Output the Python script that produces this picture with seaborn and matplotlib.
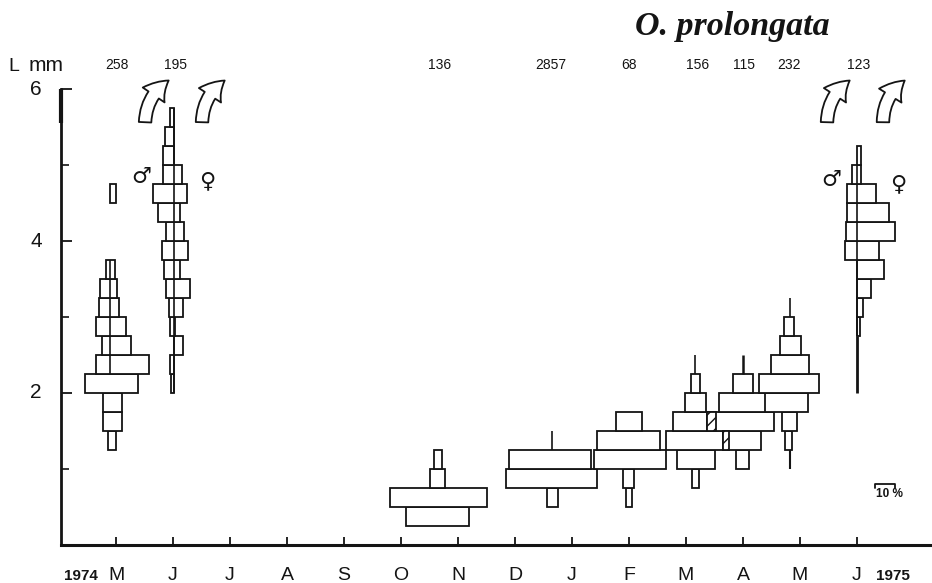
import numpy as np
import matplotlib
matplotlib.use('Agg')
import matplotlib.pyplot as plt
from matplotlib.patches import FancyArrowPatch
from matplotlib import font_manager
import seaborn as sns

# month axis
months = ['M', 'J', 'J', 'A', 'S', 'O', 'N', 'D', 'J', 'F', 'M', 'A', 'M', 'J']

# sample size labels: position in months, n
count_pos = [0.02, 1.05, 5.68, 7.62, 9.0, 10.2, 11.02, 11.8, 13.02]
count_txt = ['258', '195', '136', '2857', '68', '156', '115', '232', '123']

# each sample: centre (months), lower edge of length class (mm), % to left, % to right
may74_c = -0.105
may74_l = [1.25, 1.5, 1.75, 2.0, 2.25, 2.5, 2.75, 3.0, 3.25, 3.5, 4.5]
may74_a = [1, 3.5, 3.5, 12.5, 7, 4, 7, 5.5, 5, 2, 0]
may74_b = [3, 6, 6, 14, 19.5, 10.5, 8, 4.5, 3.5, 2.5, 3]

jun74_c = 1.02
jun74_l = [2.0, 2.25, 2.5, 2.75, 3.0, 3.25, 3.5, 3.75, 4.0, 4.25, 4.5, 4.75, 5.0, 5.25, 5.5]
jun74_a = [1.5, 2, 0, 2, 2.5, 4, 5, 6, 4, 8, 10.5, 5.5, 5.5, 4.5, 2]
jun74_b = [0, 0, 4.5, 0.5, 4.5, 8, 3, 7, 5, 3, 6.5, 4, 0, 0, 0]

oct_c = 5.65
oct_l = [0.25, 0.5, 0.75, 1.0]
oct_a = [16, 24, 4, 2]
oct_b = [15.5, 24.5, 3.5, 2]

dec_c = 7.65
dec_l = [0.5, 0.75, 1.0]
dec_a = [2.75, 23, 21.5]
dec_b = [3, 22.5, 19.5]

feb_c = 9.0
feb_l = [0.5, 0.75, 1.0, 1.25, 1.5]
feb_a = [1.5, 3, 17.5, 16, 6.5]
feb_b = [1.5, 2.5, 18.5, 15.5, 6.5]

mar_c = 10.16
mar_l = [0.75, 1.0, 1.25, 1.5, 1.75, 2.0]
mar_a = [1.5, 9, 14.5, 11, 5, 2]
mar_b = [2, 10, 17, 10.5, 5.5, 2.5]

apr_c = 11.0
apr_l = [1.0, 1.25, 1.5, 1.75, 2.0]
apr_a = [3.5, 10, 18, 12, 5]
apr_b = [3, 9, 15.5, 14.5, 5]

may75_c = 11.82
may75_l = [1.25, 1.5, 1.75, 2.0, 2.25, 2.5, 2.75]
may75_a = [2.5, 4, 12.5, 15.5, 9.5, 5, 3]
may75_b = [1, 3.5, 9, 14.5, 9.5, 5.5, 2]

jun75_c = 13.0
jun75_l = [2.75, 3.0, 3.25, 3.5, 3.75, 4.0, 4.25, 4.5, 4.75, 5.0]
jun75_a = [0, 0, 0, 0, 6, 5.5, 5, 5, 2.5, 0]
jun75_b = [1.5, 3.25, 7, 13.5, 11, 19, 16, 9.5, 2, 2]

samples = [
    (may74_c, may74_l, may74_a, may74_b),
    (jun74_c, jun74_l, jun74_a, jun74_b),
    (oct_c, oct_l, oct_a, oct_b),
    (dec_c, dec_l, dec_a, dec_b),
    (feb_c, feb_l, feb_a, feb_b),
    (mar_c, mar_l, mar_a, mar_b),
    (apr_c, apr_l, apr_a, apr_b),
    (may75_c, may75_l, may75_a, may75_b),
    (jun75_c, jun75_l, jun75_a, jun75_b),
]

# thin vertical lines: centre, from mm, to mm, width
lines = [
    (may74_c, 2.25, 3.75, 1.2),
    (jun74_c, 2.0, 5.75, 1.2),
    (dec_c, 1.25, 1.5, 1.2),
    (mar_c, 2.25, 2.5, 1.2),
    (apr_c, 2.25, 2.5, 1.8),
    (may75_c, 1.0, 1.25, 1.5),
    (may75_c, 3.0, 3.25, 1.2),
    (jun75_c, 2.0, 2.75, 2.0),
    (jun75_c, 2.75, 5.0, 1.2),
]

W, H = 932, 583
INK = '#141414'
pct = 2 / 57  # 1 % is 2 px, one month is 57 px

sns.set_style('ticks')
plt.rcParams['font.family'] = ['Liberation Sans', 'DejaVu Sans']

# narrow letters for the months if the font is there
have = {f.name for f in font_manager.fontManager.ttflist}
month_font = 'Liberation Sans Narrow' if 'Liberation Sans Narrow' in have else 'Liberation Sans'

fig = plt.figure(figsize=(W / 100, H / 100), dpi=100)
ax = fig.add_axes([61 / W, 38 / H, 1 - 61 / W, 1 - 38 / H])


def px(x, y):
    return x / W, 1 - y / H


def draw_bars(y, start, width, **kw):
    sns.barplot(x=width, y=y, orient='y', native_scale=True, left=start,
                width=1, color='white', saturation=1, edgecolor=INK,
                linewidth=1.3, errorbar=None, ax=ax, **kw)


for c, low, a, b in samples:
    a = np.array(a)
    b = np.array(b)
    draw_bars(np.array(low) + 0.125, c - a * pct, (a + b) * pct)

# March / April overlap is hatched
lap_low = np.array([1.25, 1.5])
lap_start = apr_c - np.array(apr_a[1:3]) * pct
lap_end = mar_c + np.array(mar_b[2:4]) * pct
draw_bars(lap_low + 0.125, lap_start, lap_end - lap_start, hatch='///')

for c, y0, y1, w in lines:
    ax.vlines(c, y0, y1, color=INK, lw=w, zorder=5)

ax.set_xlim((61 - 116) / 57, (W - 116) / 57)
ax.set_ylim(0, 545 / 76)
ax.set_xticks(range(len(months)))
ax.set_xticklabels([])
ax.set_yticks([2, 4, 6])
ax.set_yticks([1, 3, 5], minor=True)
ax.set_yticklabels([])
ax.set_xlabel('')
ax.set_ylabel('')
ax.tick_params(axis='x', direction='in', length=6, width=1.3, color=INK)
ax.tick_params(axis='y', which='major', direction='in', length=8, width=1.3, color=INK)
ax.tick_params(axis='y', which='minor', direction='in', length=6, width=1.2, color=INK)
sns.despine(ax=ax)
ax.spines['left'].set_bounds(0, 6)
ax.spines['left'].set_linewidth(2)
ax.spines['left'].set_color(INK)
ax.spines['bottom'].set_linewidth(2.2)
ax.spines['bottom'].set_color(INK)
ax.vlines((61 - 116) / 57, 5.55, 6, color=INK, lw=3, clip_on=False)

# text
for i, m in enumerate(months):
    ax.text(i, -30 / 76, m, ha='center', va='center', fontsize=14, color=INK,
            clip_on=False, family=month_font)
for n, t in zip(count_pos, count_txt):
    ax.text(n, (545 - 65) / 76, t, ha='center', va='center', fontsize=10, color=INK)
for v in [2, 4, 6]:
    ax.text((36 - 116) / 57, v, str(v), ha='center', va='center', fontsize=15,
            color=INK, clip_on=False)

fig.text(*px(8, 71), 'L', ha='left', va='baseline', fontsize=14, color=INK)
fig.text(*px(29, 71), 'mm', ha='left', va='baseline', fontsize=15, color=INK)
fig.text(*px(81, 576), '1974', ha='center', va='center', fontsize=11, weight='bold', color=INK)
fig.text(*px(893, 576), '1975', ha='center', va='center', fontsize=11, weight='bold', color=INK)
fig.text(*px(732, 26), 'O. prolongata', ha='center', va='center', fontsize=24.5,
         family='Liberation Serif', style='italic', weight='bold', color=INK)
fig.text(*px(889, 494), '10 %', ha='center', va='center', fontsize=8.5, weight='bold', color=INK)

for x, y, s in [(141, 177, '♂'), (207, 181, '♀'), (831, 180, '♂'), (898, 184, '♀')]:
    fig.text(*px(x, y), s, ha='center', va='center', fontsize=16, family='DejaVu Sans', color=INK)

# curved arrows for the sizes above the scale
for x0, x1 in [(145, 171), (202, 227), (827, 852), (883, 907)]:
    arrow = FancyArrowPatch(px(x0, 125), px(x1, 79), transform=fig.transFigure,
                            connectionstyle='arc3,rad=-0.28',
                            arrowstyle='simple,tail_width=9,head_width=19,head_length=15',
                            mutation_scale=1, fc='white', ec=INK, lw=1.3)
    fig.add_artist(arrow)

# 10 % scale bar
sx0, sx1 = px(875, 0)[0], px(895, 0)[0]
sy0, sy1 = px(0, 484)[1], px(0, 488)[1]
fig.add_artist(plt.Line2D([sx0, sx0, sx1, sx1], [sy1, sy0, sy0, sy1], color=INK, lw=1.3))

fig.savefig('out.png', dpi=100)
